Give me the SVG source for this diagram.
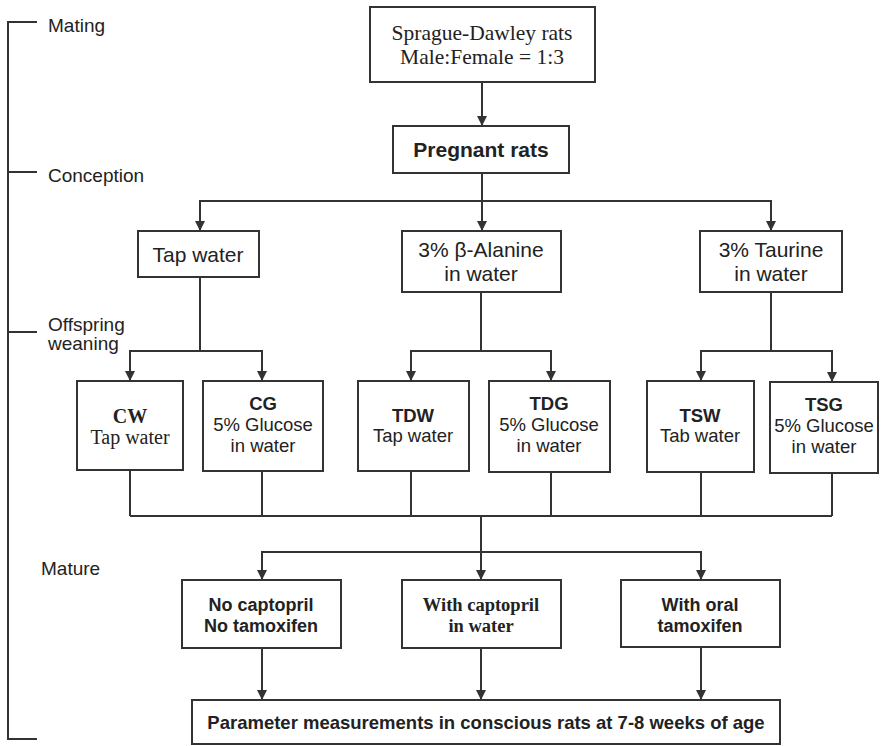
<svg xmlns="http://www.w3.org/2000/svg" width="889" height="746" viewBox="0 0 889 746">
<style>
  .box { fill: #ffffff; stroke: #333333; stroke-width: 2; }
  .ln { fill: none; stroke: #333333; stroke-width: 2; }
  .arr { fill: none; stroke: #333333; stroke-width: 2; marker-end: url(#ah); }
  .sans { font-family: "Liberation Sans", Arial, sans-serif; fill: #222222; }
  .serif { font-family: "Liberation Serif", "Times New Roman", serif; fill: #222222; }
  .b { font-weight: bold; }
  .c { text-anchor: middle; }
</style>
<defs>
  <marker id="ah" markerUnits="userSpaceOnUse" markerWidth="10" markerHeight="10" refX="5" refY="10" orient="0" viewBox="0 0 10 10">
    <path d="M0,0 L10,0 L5,10 Z" fill="#333333"/>
  </marker>
</defs>
<rect width="889" height="746" fill="#ffffff"/>

<g id="timeline">
  <path class="ln" d="M37,22 H8 V739 H37 M8,172 H37 M8,332 H37"/>
  <text class="sans" x="48" y="32" font-size="19">Mating</text>
  <text class="sans" x="48" y="182" font-size="19">Conception</text>
  <text class="sans" x="48" y="331" font-size="19">Offspring</text>
  <text class="sans" x="48" y="350" font-size="19">weaning</text>
  <text class="sans" x="41" y="575" font-size="19">Mature</text>
</g>

<g id="connectors">
  <path class="arr" d="M482,82 V126"/>
  <path class="arr" d="M482,173 V231"/>
  <path class="arr" d="M482,201 H200 V231"/>
  <path class="arr" d="M482,201 H771 V231"/>
  <path class="arr" d="M200,277 V351 H130 V381"/>
  <path class="arr" d="M200,351 H262 V381"/>
  <path class="arr" d="M481,292 V351 H411 V381"/>
  <path class="arr" d="M481,351 H551 V381"/>
  <path class="arr" d="M771,292 V351 H701 V381"/>
  <path class="arr" d="M771,351 H832 V382"/>
  <path class="ln" d="M130,470 V516 M262,471 V516 M411,471 V516 M551,472 V516 M701,472 V516 M832,473 V516 M130,516 H832"/>
  <path class="arr" d="M481,516 V580"/>
  <path class="arr" d="M481,552 H262 V580"/>
  <path class="arr" d="M481,552 H701 V580"/>
  <path class="arr" d="M262,648 V700"/>
  <path class="arr" d="M481,648 V700"/>
  <path class="arr" d="M701,647 V700"/>
</g>

<g id="sd">
  <rect class="box" x="370" y="7" width="225" height="75"/>
  <text class="serif c" x="482" y="40" font-size="21.5">Sprague-Dawley rats</text>
  <text class="serif c" x="482" y="64" font-size="21.5">Male:Female = 1:3</text>
</g>
<g id="pregnant">
  <rect class="box" x="393" y="126" width="176" height="47"/>
  <text class="sans b c" x="481" y="157" font-size="21">Pregnant rats</text>
</g>
<g id="tap">
  <rect class="box" x="138" y="231" width="121" height="46"/>
  <text class="sans c" x="198" y="262" font-size="21">Tap water</text>
</g>
<g id="alanine">
  <rect class="box" x="402" y="231" width="159" height="61"/>
  <text class="sans c" x="481" y="257" font-size="21">3% β-Alanine</text>
  <text class="sans c" x="481" y="281" font-size="21">in water</text>
</g>
<g id="taurine">
  <rect class="box" x="700" y="231" width="142" height="61"/>
  <text class="sans c" x="771" y="257" font-size="21">3% Taurine</text>
  <text class="sans c" x="771" y="281" font-size="21">in water</text>
</g>

<g id="cw">
  <rect class="box" x="77" y="381" width="106" height="89"/>
  <text class="serif b c" x="130" y="423" font-size="20">CW</text>
  <text class="serif c" x="130" y="444" font-size="20">Tap water</text>
</g>
<g id="cg">
  <rect class="box" x="203" y="381" width="120" height="90"/>
  <text class="sans b c" x="263" y="410" font-size="18.5">CG</text>
  <text class="sans c" x="263" y="431" font-size="18.5">5% Glucose</text>
  <text class="sans c" x="263" y="452" font-size="18.5">in water</text>
</g>
<g id="tdw">
  <rect class="box" x="358" y="381" width="111" height="90"/>
  <text class="sans b c" x="413" y="422" font-size="18.5">TDW</text>
  <text class="sans c" x="413" y="442" font-size="18.5">Tap water</text>
</g>
<g id="tdg">
  <rect class="box" x="489" y="381" width="121" height="91"/>
  <text class="sans b c" x="549" y="410" font-size="18.5">TDG</text>
  <text class="sans c" x="549" y="431" font-size="18.5">5% Glucose</text>
  <text class="sans c" x="549" y="452" font-size="18.5">in water</text>
</g>
<g id="tsw">
  <rect class="box" x="647" y="381" width="107" height="91"/>
  <text class="sans b c" x="700" y="422" font-size="18.5">TSW</text>
  <text class="sans c" x="700" y="442" font-size="18.5">Tab water</text>
</g>
<g id="tsg">
  <rect class="box" x="770" y="382" width="108" height="91"/>
  <text class="sans b c" x="824" y="411" font-size="18.5">TSG</text>
  <text class="sans c" x="824" y="432" font-size="18.5">5% Glucose</text>
  <text class="sans c" x="824" y="453" font-size="18.5">in water</text>
</g>

<g id="nocap">
  <rect class="box" x="182" y="580" width="159" height="68"/>
  <text class="sans b c" x="261" y="611" font-size="18">No captopril</text>
  <text class="sans b c" x="261" y="632" font-size="18">No tamoxifen</text>
</g>
<g id="withcap">
  <rect class="box" x="402" y="580" width="159" height="68"/>
  <text class="serif b c" x="481" y="611" font-size="18.5">With captopril</text>
  <text class="serif b c" x="481" y="632" font-size="18.5">in water</text>
</g>
<g id="oral">
  <rect class="box" x="621" y="580" width="159" height="67"/>
  <text class="sans b c" x="700" y="611" font-size="18">With oral</text>
  <text class="sans b c" x="700" y="632" font-size="18">tamoxifen</text>
</g>
<g id="param">
  <rect class="box" x="192" y="700" width="588" height="44"/>
  <text class="sans b c" x="486" y="729" font-size="18.5">Parameter measurements in conscious rats at 7-8 weeks of age</text>
</g>
</svg>
